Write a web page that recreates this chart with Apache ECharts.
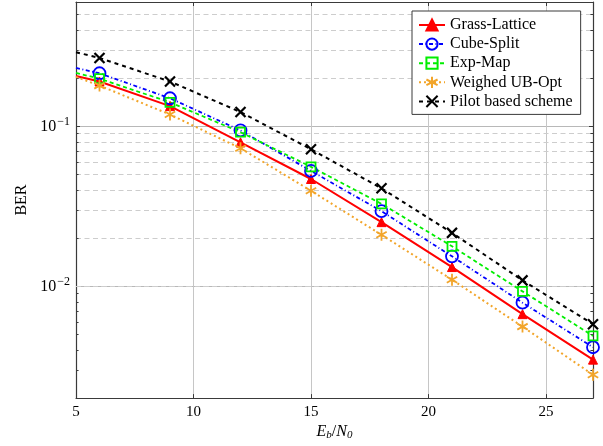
<!DOCTYPE html>
<html>
<head>
<meta charset="utf-8">
<script src="https://cdn.jsdelivr.net/npm/echarts@6/dist/echarts.min.js"></script>
<style>
  html, body { margin: 0; padding: 0; background: #fff; }
  #chart { width: 603px; height: 446px; }
</style>
</head>
<body>
<div id="chart"></div>
<script>
// Eb/N0 sample points (dB); the first point only anchors the curve at the left edge
const ebn0 = [5, 6, 9, 12, 15, 18, 21, 24, 27];

// BER per scheme
const grassLattice = [0.207, 0.191, 0.134, 0.0795, 0.0469, 0.0252, 0.0132, 0.0067, 0.00348];
const cubeSplit    = [0.232, 0.215, 0.150, 0.0944, 0.0527, 0.0295, 0.0154, 0.0079, 0.00416];
const expMap       = [0.216, 0.199, 0.1415, 0.092, 0.0559, 0.0328, 0.0178, 0.0093, 0.0049];
const weighedUbOpt = [0.204, 0.180, 0.1187, 0.073, 0.0396, 0.0210, 0.0110, 0.0056, 0.0028];
const pilotBased   = [0.291, 0.268, 0.191, 0.123, 0.072, 0.041, 0.0216, 0.0109, 0.0058];

const seriesNames = ['Grass-Lattice', 'Cube-Split', 'Exp-Map', 'Weighed UB-Opt', 'Pilot based scheme'];

// x ticks and the minor (2..9 x 10^k) grid values of the log axis
const xTicks = [5, 10, 15, 20, 25];
const minorGrid = [0.003, 0.004, 0.005, 0.006, 0.007, 0.008, 0.009,
                   0.02, 0.03, 0.04, 0.05, 0.06, 0.07, 0.08, 0.09,
                   0.2, 0.3, 0.4, 0.5];

const X_MIN = 5, X_MAX = 27, Y_MIN = 0.002, Y_MAX = 0.6;
const SERIF = '"Liberation Serif", "DejaVu Serif", serif';
const FRAME = '#3a3a3a';

function pairs(ys) {
  return ebn0.map((x, i) => i === 0 ? { value: [x, ys[i]], symbol: 'none' } : [x, ys[i]]);
}

function curve(name, ys, color, lineType, width, symbol, size, fill, borderW) {
  return {
    name: name,
    type: 'line',
    data: pairs(ys),
    z: 5,
    symbol: symbol,
    symbolSize: size,
    symbolKeepAspect: true,
    showAllSymbol: true,
    lineStyle: { color: color, width: width, type: lineType },
    itemStyle: { color: fill, borderColor: color, borderWidth: borderW, opacity: 1 },
    emphasis: { disabled: true }
  };
}

const ASTERISK = 'path://M0,-10L0,10M-8.66,-5L8.66,5M-8.66,5L8.66,-5';
const CROSS = 'path://M-5,-5L5,5M-5,5L5,-5';

function isDecade(v) {
  const l = Math.log10(v);
  return Math.abs(l - Math.round(l)) < 1e-6;
}

const chart = echarts.init(document.getElementById('chart'), null, { renderer: 'canvas' });

const option = {
  animation: false,
  backgroundColor: '#fff',
  grid: { left: 76, top: 2, width: 517, height: 398, containLabel: false },
  legend: {
    data: seriesNames,
    orient: 'vertical',
    left: 412,
    top: 11,
    padding: [6, 8, 5, 6],
    itemGap: 3.1,
    itemWidth: 26,
    itemHeight: 14,
    backgroundColor: '#fff',
    borderColor: FRAME,
    borderWidth: 1,
    borderRadius: 0,
    selectedMode: false,
    textStyle: { fontFamily: SERIF, fontSize: 16, color: '#000' },
    z: 20
  },
  xAxis: [
    {
      type: 'value', min: X_MIN, max: X_MAX, interval: 5, position: 'bottom',
      axisLine: { show: true, onZero: false, lineStyle: { color: FRAME, width: 1.2 } },
      axisTick: { show: true, inside: true, length: 4, lineStyle: { color: FRAME } },
      axisLabel: {
        margin: 6, fontFamily: SERIF, fontSize: 15, color: '#000',
        formatter: v => (xTicks.indexOf(v) >= 0 ? String(v) : '')
      },
      splitLine: { show: true, showMinLine: false, showMaxLine: false, lineStyle: { color: '#c6c6c6', width: 1 } },
      name: '{i|E}{s|b}{n|/}{i|N}{s|0}',
      nameLocation: 'middle',
      nameGap: 24,
      nameTextStyle: {
        rich: {
          i: { fontFamily: SERIF, fontStyle: 'italic', fontSize: 16, color: '#000' },
          n: { fontFamily: SERIF, fontSize: 16, color: '#000' },
          s: { fontFamily: SERIF, fontStyle: 'italic', fontSize: 11, color: '#000', padding: [7, 0, 0, 0] }
        }
      }
    },
    {
      type: 'value', min: X_MIN, max: X_MAX, interval: 5, position: 'top',
      axisLine: { show: true, onZero: false, lineStyle: { color: FRAME, width: 1.2 } },
      axisTick: { show: true, inside: true, length: 4, lineStyle: { color: FRAME } },
      axisLabel: { show: false },
      splitLine: { show: false }
    }
  ],
  yAxis: [
    {
      type: 'log', logBase: 10, min: Y_MIN, max: Y_MAX, position: 'left',
      axisLine: { show: true, onZero: false, lineStyle: { color: FRAME, width: 1.2 } },
      axisTick: { show: true, inside: true, length: 4, lineStyle: { color: FRAME } },
      axisLabel: {
        margin: 6,
        formatter: v => {
          if (!isDecade(v)) return '';
          const e = Math.round(Math.log10(v));
          return '{b|10}{s|' + (e < 0 ? '\u2212' + (-e) : e) + '}';
        },
        rich: {
          b: { fontFamily: SERIF, fontSize: 16, color: '#000' },
          s: { fontFamily: SERIF, fontSize: 12, color: '#000', padding: [0, 0, 9, 1] }
        }
      },
      splitLine: { show: true, showMinLine: false, showMaxLine: false, lineStyle: { color: '#b8b8b8', width: 1 } },
      name: 'BER',
      nameLocation: 'middle',
      nameGap: 44,
      nameRotate: 90,
      nameTextStyle: { fontFamily: SERIF, fontSize: 16, color: '#000' }
    },
    {
      type: 'log', logBase: 10, min: Y_MIN, max: Y_MAX, position: 'right',
      axisLine: { show: true, onZero: false, lineStyle: { color: FRAME, width: 1.2 } },
      axisTick: { show: true, inside: true, length: 4, lineStyle: { color: FRAME } },
      axisLabel: { show: false },
      splitLine: { show: false }
    }
  ],
  series: [
    {
      // dashed minor grid lines of the log axis
      name: 'minor-grid',
      type: 'line',
      data: [],
      z: 1,
      silent: true,
      markLine: {
        silent: true,
        symbol: ['none', 'none'],
        label: { show: false },
        animation: false,
        lineStyle: { color: '#cdcdcd', width: 1, type: [5, 3.5] },
        emphasis: { disabled: true },
        data: minorGrid.map(v => ({ yAxis: v }))
      }
    },
    {
      // minor tick marks on the left and right frame
      name: 'minor-ticks',
      type: 'line',
      data: [],
      z: 2,
      silent: true,
      markLine: {
        silent: true,
        symbol: ['none', 'none'],
        label: { show: false },
        animation: false,
        lineStyle: { color: FRAME, width: 1, type: 'solid' },
        emphasis: { disabled: true },
        data: minorGrid.flatMap(v => [
          [{ coord: [X_MIN, v] }, { coord: [X_MIN + 0.11, v] }],
          [{ coord: [X_MAX - 0.11, v] }, { coord: [X_MAX, v] }]
        ])
      }
    },
    curve('Grass-Lattice', grassLattice, '#ff0000', 'solid', 2, 'triangle', 9, '#ff0000', 1),
    curve('Cube-Split', cubeSplit, '#0000ff', [4, 2.5, 1, 2.5], 1.8, 'circle', 12, 'rgba(255,255,255,0)', 1.8),
    curve('Exp-Map', expMap, '#00ee00', [4, 3], 1.8, 'rect', 9, 'rgba(255,255,255,0)', 1.8),
    curve('Weighed UB-Opt', weighedUbOpt, '#f2a52a', [2, 3], 2, ASTERISK, 12, '#f2a52a', 1.8),
    curve('Pilot based scheme', pilotBased, '#000000', [4, 4], 2, CROSS, 10, '#000000', 2.2)
  ]
};

chart.setOption(option);
</script>
</body>
</html>
